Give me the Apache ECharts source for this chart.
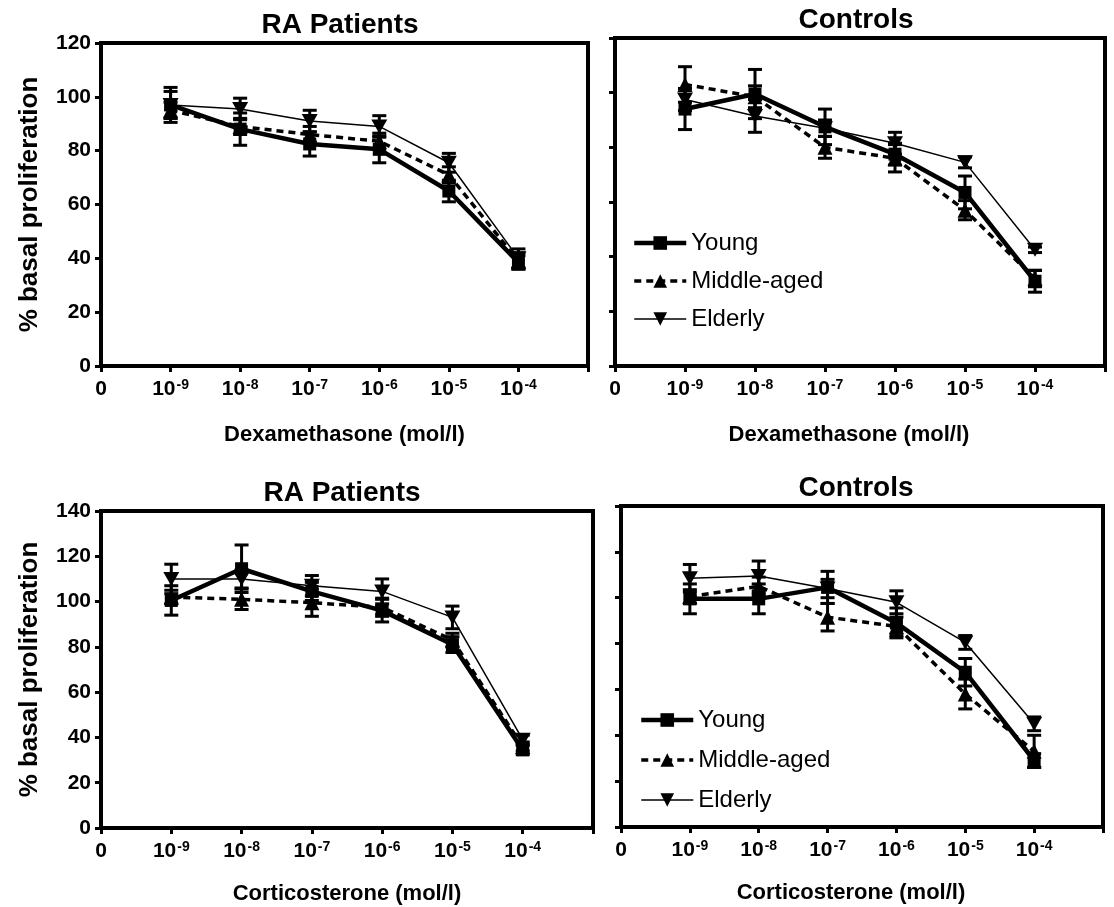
<!DOCTYPE html>
<html>
<head>
<meta charset="utf-8">
<title>Glucocorticoid sensitivity by age group</title>
<script src="https://cdn.jsdelivr.net/npm/echarts@6/dist/echarts.min.js"></script>
<style>
  html, body { margin: 0; padding: 0; background: #fff; }
  #chart { width: 1114px; height: 907px; }
</style>
</head>
<body>
<div id="chart"></div>
<script>
// x positions 1..6 = 10^-9 .. 10^-4 mol/l, tick 0 = "0", tick 7 = blank
const concX = [1, 2, 3, 4, 5, 6]
const tickExponents = ['', '-9', '-8', '-7', '-6', '-5', '-4', '']
const groupNames = ['Young', 'Middle-aged', 'Elderly']

// Dexamethasone, RA patients (mean, sem)
const dexRaYoung = [97, 88, 82.5, 80.5, 65, 38.5]
const dexRaYoungSem = [5, 6, 4.5, 5, 4, 2.5]
const dexRaMiddle = [95, 89, 86, 83.5, 71, 39]
const dexRaMiddleSem = [3, 3, 3, 3, 3, 3]
const dexRaElderly = [97, 95.5, 91, 89, 75.5, 40]
const dexRaElderlySem = [6.5, 4, 4, 4, 3.5, 3.5]

// Dexamethasone, controls
const dexCtYoung = [94, 99.5, 87.5, 77.5, 63.5, 31]
const dexCtYoungSem = [7.5, 9, 6.5, 4, 6, 4]
const dexCtMiddle = [103, 98.5, 80, 76, 57, 32]
const dexCtMiddleSem = [6.5, 4, 4, 5, 3.5, 3]
const dexCtElderly = [97.5, 91.5, 87, 81.5, 74.5, 42.5]
const dexCtElderlySem = [4, 6, 3, 4, 2, 1]

// Corticosterone, RA patients
const corRaYoung = [100.5, 114.5, 104.5, 96, 81, 34.5]
const corRaYoungSem = [6.5, 10.5, 4, 5, 3.5, 2]
const corRaMiddle = [102, 101, 99.5, 97.5, 83, 36]
const corRaMiddleSem = [3, 4.5, 6, 4, 3, 2]
const corRaElderly = [110, 110, 107, 104.5, 93, 39]
const corRaElderlySem = [6.5, 4, 4.5, 5.5, 5, 2]

// Corticosterone, controls
const corCtYoung = [99.5, 99.5, 104.5, 89, 67.5, 29]
const corCtYoungSem = [6.5, 6.5, 7, 6.5, 6, 3]
const corCtMiddle = [100.5, 105, 91.5, 87.5, 58, 33]
const corCtMiddleSem = [3, 4, 6, 4, 6.5, 7]
const corCtElderly = [108.5, 109.5, 104, 98, 80.5, 45]
const corCtElderlySem = [6, 6.5, 4, 5, 3, 3]

const FONT = '"Liberation Sans", Arial, Helvetica, sans-serif'
const INV_TRIANGLE = 'path://M0,0 L10,0 L5,9 Z'

// line look for each age group
const groupStyles = [
  { symbol: 'rect', symbolSize: 13, width: 4.5, type: 'solid' },
  { symbol: 'triangle', symbolSize: 15, width: 3.5, type: [7, 5] },
  { symbol: INV_TRIANGLE, symbolSize: [16, 14], width: 1.5, type: 'solid' },
]

const panels = [
  { grid: { left: 101, top: 43, width: 487, height: 323 }, yMax: 120, left: true,
    title: 'RA Patients', titleX: 335, titleY: 6, xName: 'Dexamethasone (mol/l)', xNameShift: 0, xNameGap: 58,
    means: [dexRaYoung, dexRaMiddle, dexRaElderly], sems: [dexRaYoungSem, dexRaMiddleSem, dexRaElderlySem] },
  { grid: { left: 615, top: 38, width: 490, height: 328 }, yMax: 120, left: false,
    title: 'Controls', titleX: 851, titleY: 1, xName: 'Dexamethasone (mol/l)', xNameShift: 22, xNameGap: 58,
    means: [dexCtYoung, dexCtMiddle, dexCtElderly], sems: [dexCtYoungSem, dexCtMiddleSem, dexCtElderlySem] },
  { grid: { left: 101, top: 511, width: 492, height: 317 }, yMax: 140, left: true,
    title: 'RA Patients', titleX: 337, titleY: 474, xName: 'Corticosterone (mol/l)', xNameShift: 0, xNameGap: 55,
    means: [corRaYoung, corRaMiddle, corRaElderly], sems: [corRaYoungSem, corRaMiddleSem, corRaElderlySem] },
  { grid: { left: 621, top: 506, width: 482, height: 321 }, yMax: 140, left: false,
    title: 'Controls', titleX: 851, titleY: 469, xName: 'Corticosterone (mol/l)', xNameShift: 22, xNameGap: 55,
    means: [corCtYoung, corCtMiddle, corCtElderly], sems: [corCtYoungSem, corCtMiddleSem, corCtElderlySem] },
]

// vertical error bar with caps
function renderErrorBar(params, api) {
  const x = api.value(0)
  const lo = api.coord([x, api.value(1)])
  const hi = api.coord([x, api.value(2)])
  const half = 7
  const style = { stroke: '#000', lineWidth: 3 }
  return {
    type: 'group',
    children: [
      { type: 'line', shape: { x1: lo[0], y1: lo[1], x2: hi[0], y2: hi[1] }, style },
      { type: 'line', shape: { x1: lo[0] - half, y1: lo[1], x2: lo[0] + half, y2: lo[1] }, style },
      { type: 'line', shape: { x1: hi[0] - half, y1: hi[1], x2: hi[0] + half, y2: hi[1] }, style },
    ],
  }
}

const grids = []
const xAxes = []
const yAxes = []
const titles = []
const series = []

panels.forEach((p, i) => {
  grids.push({ ...p.grid, show: true, borderColor: '#000', borderWidth: 4, backgroundColor: 'transparent' })
  titles.push({
    text: p.title, left: p.titleX, top: p.titleY, textAlign: 'center',
    textStyle: { fontFamily: FONT, fontSize: 28, fontWeight: 'bold', color: '#000' },
  })
  xAxes.push({
    type: 'value', gridIndex: i, min: 0, max: 7, interval: 1,
    name: p.xName, nameLocation: 'middle', nameGap: p.xNameGap,
    nameTextStyle: { fontFamily: FONT, fontSize: 22, fontWeight: 'bold', color: '#000', padding: [0, p.xNameShift, 0, 0] },
    axisLine: { show: true, lineStyle: { color: '#000', width: 4 } },
    axisTick: { show: true, length: 6, lineStyle: { color: '#000', width: 3 } },
    splitLine: { show: false },
    axisLabel: {
      margin: 12, color: '#000',
      formatter: v => (v === 0 ? '{b|0}' : tickExponents[v] ? '{b|10}{s|' + tickExponents[v] + '}' : ''),
      rich: {
        b: { fontFamily: FONT, fontSize: 21, fontWeight: 'bold', color: '#000', lineHeight: 22 },
        s: { fontFamily: FONT, fontSize: 14, fontWeight: 'bold', color: '#000', lineHeight: 22, verticalAlign: 'top', padding: [0, 0, 8, 1] },
      },
    },
  })
  yAxes.push({
    type: 'value', gridIndex: i, min: 0, max: p.yMax, interval: 20,
    name: p.left ? '% basal proliferation' : '', nameLocation: 'middle', nameGap: 58, nameRotate: 90,
    nameTextStyle: { fontFamily: FONT, fontSize: 26, fontWeight: 'bold', color: '#000' },
    axisLine: { show: true, lineStyle: { color: '#000', width: 4 } },
    axisTick: { show: true, length: 6, lineStyle: { color: '#000', width: 3 } },
    splitLine: { show: false },
    axisLabel: {
      show: p.left, margin: 10,
      fontFamily: FONT, fontSize: 21, fontWeight: 'bold', color: '#000',
    },
  })
  groupNames.forEach((name, g) => {
    const st = groupStyles[g]
    series.push({
      name: name + ' SEM', type: 'custom', xAxisIndex: i, yAxisIndex: i,
      renderItem: renderErrorBar, silent: true, z: 1,
      data: concX.map((x, k) => [x, p.means[g][k] - p.sems[g][k], p.means[g][k] + p.sems[g][k]]),
    })
    series.push({
      name, type: 'line', xAxisIndex: i, yAxisIndex: i, z: 3,
      symbol: st.symbol, symbolSize: st.symbolSize, showSymbol: true,
      itemStyle: { color: '#000' },
      lineStyle: { color: '#000', width: st.width, type: st.type },
      data: concX.map((x, k) => [x, p.means[g][k]]),
    })
  })
})

const legendItems = groupNames.map((name, g) => ({
  name,
  lineStyle: { width: groupStyles[g].width, type: groupStyles[g].type, color: '#000' },
}))

const legendBase = {
  orient: 'vertical', data: legendItems, selectedMode: false,
  itemWidth: 52, itemHeight: 17,
  textStyle: { fontFamily: FONT, fontSize: 24, color: '#000' },
}

const chart = echarts.init(document.getElementById('chart'), null, { renderer: 'canvas' })
chart.setOption({
  backgroundColor: '#fff',
  animation: false,
  title: titles,
  legend: [
    { ...legendBase, left: 627, top: 226, itemGap: 14 },
    { ...legendBase, left: 634, top: 703, itemGap: 16 },
  ],
  grid: grids,
  xAxis: xAxes,
  yAxis: yAxes,
  series,
})
</script>
</body>
</html>
